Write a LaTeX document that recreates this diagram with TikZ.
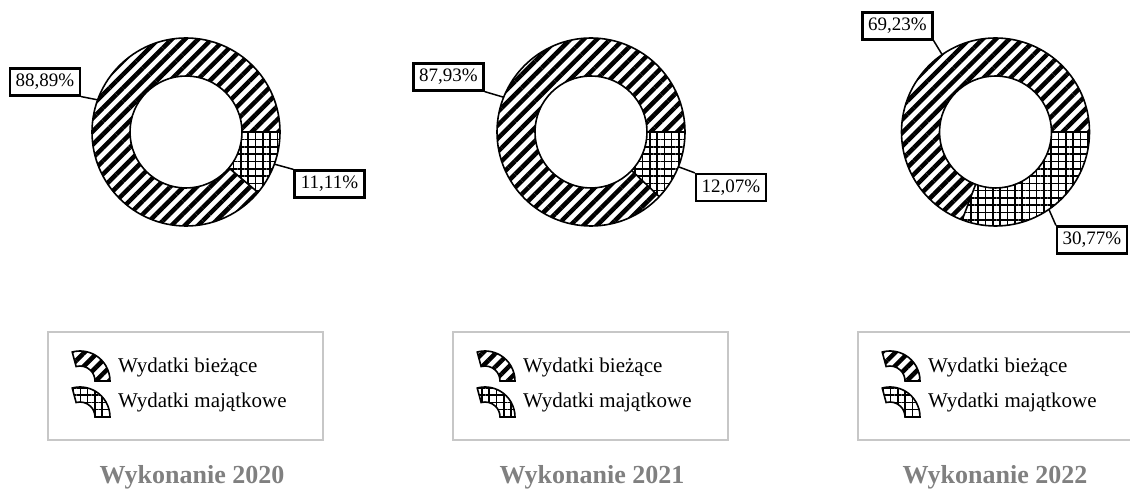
\documentclass[tikz,border=0pt]{standalone}
\usepackage{fontspec}
\setmainfont{Liberation Serif}
\usetikzlibrary{patterns.meta}

\begin{document}
\begin{tikzpicture}[x=1pt,y=1pt,
  bie/.style={pattern={Lines[angle=45,distance=9.4pt,line width=4.5pt]}},
  maj/.style={pattern={Hatch[angle=0,distance=7.3pt,line width=1.6pt]}},
  ring/.style={line width=1.6pt},
  lbl/.style={draw,line width=2.2pt,fill=white,minimum width=70pt,minimum height=27pt,inner sep=0pt,font=\fontsize{19}{19}\selectfont},
  lead/.style={line width=1.5pt},
  legbox/.style={draw=black!22,line width=1.5pt},
  legtext/.style={anchor=base west,inner sep=0pt,font=\fontsize{21}{21}\selectfont},
  yeartitle/.style={anchor=base,inner sep=0pt,text=black!50,font=\bfseries\fontsize{26}{26}\selectfont}]
\useasboundingbox (0,0) rectangle (1130,490);
\clip (0,0) rectangle (1130,490);

\coordinate (c1) at (186,358);
\fill[bie] (c1) ++(0:94) arc[start angle=0,end angle=320,radius=94] -- ++(140:38) arc[start angle=320,end angle=0,radius=56] -- cycle;
\fill[maj] (c1) ++(0:94) arc[start angle=0,end angle=-40,radius=94] -- ++(140:38) arc[start angle=-40,end angle=0,radius=56] -- cycle;
\draw[ring] (c1) circle[radius=94] (c1) circle[radius=56];
\draw[ring] (c1) ++(0:56) -- ++(0:38);
\draw[ring] (c1) ++(-40:56) -- ++(-40:38);
\path (c1) ++(160:94) coordinate (p1a);
\path (c1) ++(-20:94) coordinate (p1b);
\node[lbl] (l1a) at (45,408) {88,89\%};
\node[lbl] (l1b) at (329.5,306) {11,11\%};
\draw[lead] (p1a) -- (l1a.south east);
\draw[lead] (p1b) -- (l1b.north west);

\coordinate (c2) at (591,358);
\fill[bie] (c2) ++(0:94) arc[start angle=0,end angle=316.55,radius=94] -- ++(136.55:38) arc[start angle=316.55,end angle=0,radius=56] -- cycle;
\fill[maj] (c2) ++(0:94) arc[start angle=0,end angle=-43.45,radius=94] -- ++(136.55:38) arc[start angle=-43.45,end angle=0,radius=56] -- cycle;
\draw[ring] (c2) circle[radius=94] (c2) circle[radius=56];
\draw[ring] (c2) ++(0:56) -- ++(0:38);
\draw[ring] (c2) ++(-43.45:56) -- ++(-43.45:38);
\path (c2) ++(158.3:94) coordinate (p2a);
\path (c2) ++(-21.7:94) coordinate (p2b);
\node[lbl] (l2a) at (448.5,413) {87,93\%};
\node[lbl] (l2b) at (731,302.5) {12,07\%};
\draw[lead] (p2a) -- (l2a.south east);
\draw[lead] (p2b) -- (l2b.north west);

\coordinate (c3) at (995.5,358);
\fill[bie] (c3) ++(0:94) arc[start angle=0,end angle=249.23,radius=94] -- ++(69.23:38) arc[start angle=249.23,end angle=0,radius=56] -- cycle;
\fill[maj] (c3) ++(0:94) arc[start angle=0,end angle=-110.77,radius=94] -- ++(69.23:38) arc[start angle=-110.77,end angle=0,radius=56] -- cycle;
\draw[ring] (c3) circle[radius=94] (c3) circle[radius=56];
\draw[ring] (c3) ++(0:56) -- ++(0:38);
\draw[ring] (c3) ++(-110.77:56) -- ++(-110.77:38);
\path (c3) ++(124.6:94) coordinate (p3a);
\path (c3) ++(-55.4:94) coordinate (p3b);
\node[lbl] (l3a) at (897.5,464) {69,23\%};
\node[lbl] (l3b) at (1092,250) {30,77\%};
\draw[lead] (p3a) -- (l3a.south east);
\draw[lead] (p3b) -- (l3b.north west);

\foreach \k/\yr/\tx in {0/2020/192,1/2021/592,2/2022/995}
{
	\begin{scope}[xshift=405*\k]
		\draw[legbox] (48,50) rectangle (323,158);
		\fill[bie] (80,109) ++(0:30) arc[start angle=0,end angle=105,radius=30] -- ++(285:15) arc[start angle=105,end angle=0,radius=15] -- cycle;
		\draw[ring] (80,109) ++(0:30) arc[start angle=0,end angle=105,radius=30] -- ++(285:15) arc[start angle=105,end angle=0,radius=15] -- cycle;
		\fill[maj] (80,73) ++(0:30) arc[start angle=0,end angle=105,radius=30] -- ++(285:15) arc[start angle=105,end angle=0,radius=15] -- cycle;
		\draw[ring] (80,73) ++(0:30) arc[start angle=0,end angle=105,radius=30] -- ++(285:15) arc[start angle=105,end angle=0,radius=15] -- cycle;
		\node[legtext] (bie\k) at (118,117) {Wydatki bieżące};
		\node[legtext] (maj\k) at (118,82) {Wydatki majątkowe};
	\end{scope}
	\node[yeartitle] (rok\k) at (\tx,6.5) {Wykonanie \yr};
}

\end{tikzpicture}
\end{document}
